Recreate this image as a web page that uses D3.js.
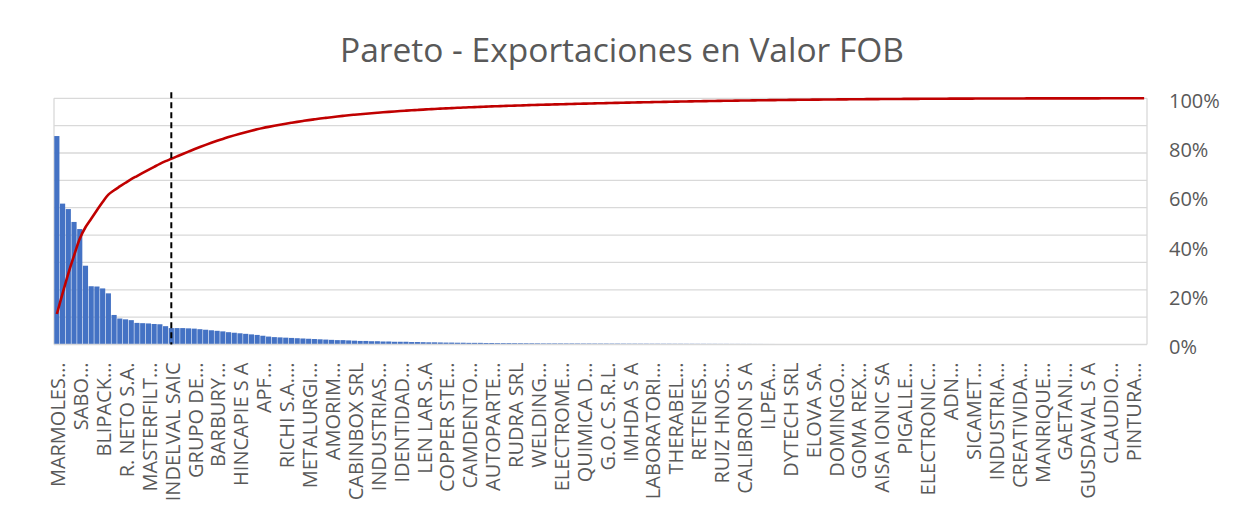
<!DOCTYPE html>
<html><head><meta charset="utf-8">
<script src="https://cdn.jsdelivr.net/npm/d3@7"></script>
<style>
body{margin:0;background:#fff;}
svg text{font-family:"Open Sans",sans-serif;fill:#595959;}
</style>
</head><body>
<svg id="chart" width="1242" height="510"></svg>
<script>
const chartTitle = "Pareto - Exportaciones en Valor FOB";

// tick labels shown on the category axis (every 4th exporter)
const tickLabels = ["MARMOLES…","SABO…","BLIPACK…","R. NETO S.A.","MASTERFILT…","INDELVAL SAIC","GRUPO DE…","BARBURY…","HINCAPIE S A","APF…","RICHI S.A.…","METALURGI…","AMORIM…","CABINBOX SRL","INDUSTRIAS…","IDENTIDAD…","LEN LAR S.A","COPPER STE…","CAMDENTO…","AUTOPARTE…","RUDRA SRL","WELDING…","ELECTROME…","QUIMICA D…","G.O.C S.R.L.","IMHDA S A","LABORATORI…","THERABEL…","RETENES…","RUIZ HNOS…","CALIBRON S A","ILPEA…","DYTECH SRL","ELOVA SA.","DOMINGO…","GOMA REX…","AISA IONIC SA","PIGALLE…","ELECTRONIC…","ADN…","SICAMET…","INDUSTRIA…","CREATIVIDA…","MANRIQUE…","GAETANI…","GUSDAVAL S A","CLAUDIO…","PINTURA…"];
const labelEvery = 4;

// FOB export value per exporter (sorted descending), primary-axis units
const fobValues = [
  7.62,5.15,4.95,4.48,4.22,2.88,2.13,2.12,2.05,1.87,
  1.08,0.95,0.92,0.89,0.79,0.78,0.77,0.75,0.74,0.67,
  0.60,0.60,0.60,0.59,0.58,0.56,0.54,0.52,
  0.50,0.48,0.45,0.43,0.41,0.39,
  0.37,0.35,0.32,0.29,0.27,0.26,
  0.25,0.24,0.23,0.22,0.21,0.20,
  0.19,0.18,0.17,0.16,0.16,
  0.15,0.14,0.13,0.13,0.12,0.12,
  0.11,0.11,0.10,0.10,0.10,0.09,
  0.09,0.085,0.08,0.08,0.075,0.07,
  0.07,0.065,0.065,0.06,0.06,0.06,
  0.055,0.055,0.05,0.05,0.05,0.048,
  0.046,0.045,0.044,0.042,0.04,0.04,
  0.040,0.039,0.038,0.038,0.037,0.036,0.036,0.035,0.034,0.034,0.033,0.033,0.032,
  0.031,0.031,0.030,0.030,0.029,0.029,0.028,0.028,0.027,0.027,0.026,0.026,0.025,
  0.025,0.024,0.024,0.023,0.023,0.022,0.022,0.021,0.021,0.020,0.020,0.019,0.019,
  0.018,0.018,0.017,0.017,0.016,0.016,0.015,0.015,0.014,0.014,0.013,0.013,0.012,
  0.012,0.012,0.011,0.011,0.011,0.010,0.010,0.010,0.009,0.009,0.009,0.008,0.008,
  0.008,0.007,0.007,0.007,0.006,0.006,0.006,0.006,0.005,0.005,0.005,0.005,0.004,
  0.004,0.004,0.004,0.003,0.003,0.003,0.003,0.003,0.002,0.002,0.002,0.002,0.002,
  0.002,0.002,0.001,0.001,0.001,0.001,0.001,0.001,0.001,0.001,0.0005,0.0005,0.0003
];
const primaryMax = 9;            // hidden primary axis: 9 gridline steps
const pctTicks = [0,0.2,0.4,0.6,0.8,1];
const markerIndex = 20;          // dashed reference line (INDELVAL SAIC)

const svg = d3.select("#chart");
const m = {left:54, right:1147, top:98.3, bottom:344.5};

const idx = d3.range(fobValues.length);
const total = d3.sum(fobValues);
let acc = 0;
const cumPct = fobValues.map(v => (acc += v) / total);

const x = d3.scaleBand().domain(idx).range([m.left, m.right]).paddingInner(0.1).paddingOuter(0.05);
const y = d3.scaleLinear().domain([0, primaryMax]).range([m.bottom, m.top]);
const y2 = d3.scaleLinear().domain([0, 1]).range([m.bottom, m.top]);

// title
svg.append("text").attr("x", 622).attr("y", 62).attr("text-anchor","middle")
  .style("font-size","33.5px").text(chartTitle);

// gridlines
svg.append("g").selectAll("line").data(d3.range(1, primaryMax + 1)).join("line")
  .attr("x1", m.left).attr("x2", m.right)
  .attr("y1", d => y(d)).attr("y2", d => y(d))
  .attr("stroke", "#d9d9d9").attr("stroke-width", 1.3);
// plot side borders
svg.append("line").attr("x1", m.left).attr("x2", m.left).attr("y1", m.top).attr("y2", m.bottom)
  .attr("stroke","#d9d9d9").attr("stroke-width",1.3);
svg.append("line").attr("x1", m.right).attr("x2", m.right).attr("y1", m.top).attr("y2", m.bottom)
  .attr("stroke","#d9d9d9").attr("stroke-width",1.3);

// bars
svg.append("g").selectAll("rect").data(idx).join("rect")
  .attr("x", i => x(i)).attr("width", x.bandwidth())
  .attr("y", i => y(fobValues[i])).attr("height", i => y(0) - y(fobValues[i]))
  .attr("fill", "#4472c4");

// x axis line
svg.append("line").attr("x1", m.left).attr("x2", m.right).attr("y1", m.bottom).attr("y2", m.bottom)
  .attr("stroke","#d9d9d9").attr("stroke-width",1.3);

// category axis labels
const xAxis = d3.axisBottom(x)
  .tickValues(idx.filter(i => i % labelEvery === 0))
  .tickFormat(i => tickLabels[i / labelEvery])
  .tickSize(0);
const gx = svg.append("g").attr("transform", `translate(0,${m.bottom})`).call(xAxis);
gx.select(".domain").remove();
gx.selectAll("text")
  .attr("transform", "rotate(-90)")
  .attr("x", -18).attr("y", 0).attr("dy", "0.42em")
  .attr("text-anchor", "end")
  .style("font-size", "20px").style("font-family", "'Open Sans',sans-serif").attr("fill", "#595959");

// secondary percentage axis
const yAxis2 = d3.axisRight(y2).tickValues(pctTicks).tickFormat(d3.format(".0%")).tickSize(0);
const gy = svg.append("g").attr("transform", `translate(${m.right},0)`).call(yAxis2);
gy.select(".domain").remove();
gy.selectAll("text").attr("x", 22).attr("dy", "0.45em")
  .style("font-size", "20px").style("font-family", "'Open Sans',sans-serif").attr("fill", "#595959");

// cumulative line
const line = d3.line()
  .x((d, i) => x(i) + x.bandwidth() / 2)
  .y(d => y2(d))
  .curve(d3.curveCatmullRom.alpha(0.5));
svg.append("path").datum(cumPct).attr("d", line)
  .attr("fill","none").attr("stroke","#c00000").attr("stroke-width",2.6);

// dashed reference line
const mx = x(markerIndex) + x.bandwidth() / 2;
svg.append("line").attr("x1", mx).attr("x2", mx).attr("y1", m.top - 6).attr("y2", m.bottom)
  .attr("stroke","#000").attr("stroke-width",2).attr("stroke-dasharray","6,4");
</script>
</body></html>
